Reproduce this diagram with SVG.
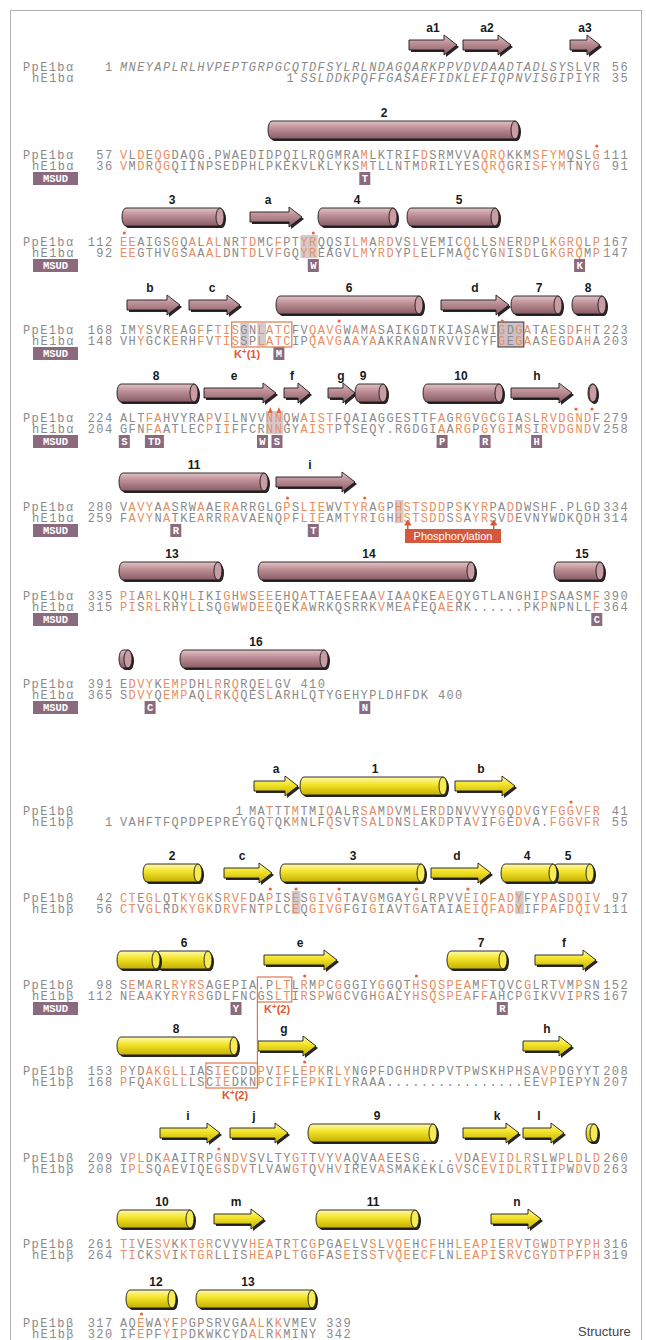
<svg xmlns="http://www.w3.org/2000/svg" width="646" height="1340" viewBox="0 0 646 1340">
<defs>
<linearGradient id="gm" x1="0" y1="0" x2="0" y2="1"><stop offset="0" stop-color="#e2c3c7"/><stop offset="0.4" stop-color="#bd8f96"/><stop offset="1" stop-color="#8a5c66"/></linearGradient>
<linearGradient id="gy" x1="0" y1="0" x2="0" y2="1"><stop offset="0" stop-color="#fffab0"/><stop offset="0.4" stop-color="#f4e52c"/><stop offset="1" stop-color="#c4b000"/></linearGradient>
</defs>
<style>
.sq{font-family:"Liberation Mono","DejaVu Sans Mono",monospace;font-size:12px;letter-spacing:1.39px;fill:#8a8a8a}
.o{fill:#e98e62}
.it{font-style:italic}
.nr{text-anchor:end}
.lbl{font-family:"Liberation Sans",Arial,sans-serif;font-weight:bold;font-size:12px;fill:#1a1a1a;text-anchor:middle}
.sh{fill:#262626}
.m{fill:url(#gm);stroke:#1a1a1a;stroke-width:0.9}
.me{fill:#c99ca3;stroke:#1a1a1a;stroke-width:0.9}
.y{fill:url(#gy);stroke:#1a1a1a;stroke-width:0.9}
.ye{fill:#f6ea55;stroke:#1a1a1a;stroke-width:0.9}
.hl{fill:#cbc1c6;opacity:0.85}
.mb{fill:#8b6a7e}
.mt{font-family:"Liberation Mono",monospace;font-weight:bold;font-size:10.5px;fill:#fff;text-anchor:middle}
.kb{fill:none;stroke:#e2774e;stroke-width:1.2}
.kt{font-family:"Liberation Sans",Arial,sans-serif;font-weight:bold;font-size:11px;fill:#e0562f}
.dot{fill:#e8643a}
</style>
<rect x="10.5" y="10.5" width="631" height="1340" fill="#fff" stroke="#b0b0b0"/>

<g id="highlights">
<rect class="hl" x="300.4" y="235" width="17.2" height="23"/>
<rect class="hl" x="240.3" y="323" width="8.6" height="23"/>
<rect class="hl" x="257.4" y="323" width="8.6" height="23"/>
<rect x="498" y="322" width="25.8" height="25" fill="#cbc1c6" stroke="#333" stroke-width="1"/>
<rect class="hl" x="266" y="411" width="17.2" height="23"/>
<rect class="hl" x="394.9" y="500" width="8.6" height="23"/>
<rect class="hl" x="291.8" y="891" width="8.6" height="23"/>
<rect class="hl" x="515.2" y="891" width="8.6" height="23"/>
</g>

<g id="a-block1">
<g transform="translate(409,45)"><polygon class="sh" points="2,-3 37,-3 37,-8 50,2 37,12 37,7 2,7"/><polygon class="m" points="0,-5 35,-5 35,-10 48,0 35,10 35,5 0,5"/></g>
<g transform="translate(463,45)"><polygon class="sh" points="2,-3 37,-3 37,-8 50,2 37,12 37,7 2,7"/><polygon class="m" points="0,-5 35,-5 35,-10 48,0 35,10 35,5 0,5"/></g>
<g transform="translate(570,45)"><polygon class="sh" points="2,-3 19,-3 19,-8 32,2 19,12 19,7 2,7"/><polygon class="m" points="0,-5 17,-5 17,-10 30,0 17,10 17,5 0,5"/></g>
<text class="lbl" x="433" y="32">a1</text><text class="lbl" x="487" y="32">a2</text><text class="lbl" x="585" y="32">a3</text>
<text class="sq" x="23" y="71">PpE1bα</text><text class="sq nr" x="113.5" y="71">1</text>
<text class="sq it" x="120" y="71">MNEYAPLRLHVPEPTGRPGCQTDFSYLRLNDAGQARKPPVDVDAADTADLSY<tspan font-style="normal">SLVR</tspan></text><text class="sq nr" x="629" y="71">56</text>
<text class="sq" x="32" y="82">hE1bα</text><text class="sq nr" x="295" y="82">1</text>
<text class="sq it" x="300.4" y="82">SSLDDKPQFFGASAEFIDKLEFIQPNVISGI<tspan font-style="normal">PIYR</tspan></text><text class="sq nr" x="629" y="82">35</text>
</g>

<g id="a-block2">
<g transform="translate(268,130)"><rect class="sh" x="2" y="-7" width="251" height="18" rx="4" ry="9"/><rect class="m" x="0" y="-9" width="251" height="18" rx="4" ry="9"/><ellipse class="me" cx="247" cy="0" rx="4" ry="9"/></g>
<text class="lbl" x="384" y="117">2</text>
<circle class="dot" cx="596.8" cy="146" r="1.6"/>
<text class="sq" x="23" y="159">PpE1bα</text><text class="sq nr" x="113.5" y="159">57</text>
<text class="sq" x="120" y="159"><tspan class="o">V</tspan>L<tspan class="o">D</tspan>E<tspan class="o">QG</tspan>DAQG.PWAEDIDPQILRQGMRA<tspan class="o">M</tspan>LKTRIF<tspan class="o">D</tspan>SRMVVA<tspan class="o">QRQ</tspan>KKM<tspan class="o">SFYM</tspan>QSL<tspan class="o">G</tspan></text><text class="sq nr" x="629" y="159">111</text>
<text class="sq" x="32" y="170">hE1bα</text><text class="sq nr" x="113.5" y="170">36</text>
<text class="sq" x="120" y="170"><tspan class="o">V</tspan>M<tspan class="o">D</tspan>R<tspan class="o">QG</tspan>QIINPSEDPHLPKEKVLKLYKS<tspan class="o">M</tspan>TLLNTM<tspan class="o">D</tspan>RILYES<tspan class="o">QRQ</tspan>GRI<tspan class="o">SFYM</tspan>TNY<tspan class="o">G</tspan></text><text class="sq nr" x="629" y="170">91</text>
<rect class="mb" x="33" y="172" width="45" height="13"/><text class="mt" x="55.5" y="182">MSUD</text>
<rect class="mb" x="359.3" y="172" width="11" height="13"/><text class="mt" x="364.8" y="182">T</text>
</g>

<g id="a-block3">
<g transform="translate(122,217)"><rect class="sh" x="2" y="-7" width="102" height="18" rx="4" ry="9"/><rect class="m" x="0" y="-9" width="102" height="18" rx="4" ry="9"/><ellipse class="me" cx="98" cy="0" rx="4" ry="9"/></g>
<g transform="translate(250,217)"><polygon class="sh" points="2,-3 41,-3 41,-8 54,2 41,12 41,7 2,7"/><polygon class="m" points="0,-5 39,-5 39,-10 52,0 39,10 39,5 0,5"/></g>
<g transform="translate(318,217)"><rect class="sh" x="2" y="-7" width="79" height="18" rx="4" ry="9"/><rect class="m" x="0" y="-9" width="79" height="18" rx="4" ry="9"/><ellipse class="me" cx="75" cy="0" rx="4" ry="9"/></g>
<g transform="translate(407,217)"><rect class="sh" x="2" y="-7" width="92" height="18" rx="4" ry="9"/><rect class="m" x="0" y="-9" width="92" height="18" rx="4" ry="9"/><ellipse class="me" cx="88" cy="0" rx="4" ry="9"/></g>
<text class="lbl" x="172" y="204">3</text><text class="lbl" x="268" y="204">a</text><text class="lbl" x="357" y="204">4</text><text class="lbl" x="459" y="204">5</text>
<circle class="dot" cx="124.3" cy="233" r="1.6"/><circle class="dot" cx="313.3" cy="233" r="1.6"/>
<text class="sq" x="23" y="246">PpE1bα</text><text class="sq nr" x="113.5" y="246">112</text>
<text class="sq" x="120" y="246"><tspan class="o">EE</tspan>AIGS<tspan class="o">G</tspan>Q<tspan class="o">A</tspan>L<tspan class="o">AL</tspan>NR<tspan class="o">TD</tspan>MC<tspan class="o">F</tspan>PT<tspan class="o">YR</tspan>QQSI<tspan class="o">LM</tspan>A<tspan class="o">RD</tspan>VS<tspan class="o">L</tspan>VEMIC<tspan class="o">Q</tspan>LLS<tspan class="o">N</tspan>ER<tspan class="o">D</tspan>PL<tspan class="o">KGRQ</tspan>L<tspan class="o">P</tspan></text><text class="sq nr" x="629" y="246">167</text>
<text class="sq" x="32" y="257">hE1bα</text><text class="sq nr" x="113.5" y="257">92</text>
<text class="sq" x="120" y="257"><tspan class="o">EE</tspan>GTHV<tspan class="o">G</tspan>S<tspan class="o">A</tspan>A<tspan class="o">AL</tspan>DN<tspan class="o">TD</tspan>LV<tspan class="o">F</tspan>GQ<tspan class="o">YR</tspan>EAGV<tspan class="o">LM</tspan>Y<tspan class="o">RD</tspan>YP<tspan class="o">L</tspan>ELFMA<tspan class="o">Q</tspan>CYG<tspan class="o">N</tspan>IS<tspan class="o">D</tspan>LG<tspan class="o">KGRQ</tspan>M<tspan class="o">P</tspan></text><text class="sq nr" x="629" y="257">147</text>
<rect class="mb" x="33" y="259" width="45" height="13"/><text class="mt" x="55.5" y="269">MSUD</text>
<rect class="mb" x="307.8" y="259" width="11" height="13"/><text class="mt" x="313.3" y="269">W</text>
<rect class="mb" x="574.1" y="259" width="11" height="13"/><text class="mt" x="579.6" y="269">K</text>
</g>

<g id="a-block4">
<g transform="translate(127,305)"><polygon class="sh" points="2,-3 42,-3 42,-8 55,2 42,12 42,7 2,7"/><polygon class="m" points="0,-5 40,-5 40,-10 53,0 40,10 40,5 0,5"/></g>
<g transform="translate(189,305)"><polygon class="sh" points="2,-3 40,-3 40,-8 53,2 40,12 40,7 2,7"/><polygon class="m" points="0,-5 38,-5 38,-10 51,0 38,10 38,5 0,5"/></g>
<g transform="translate(276,305)"><rect class="sh" x="2" y="-7" width="147" height="18" rx="4" ry="9"/><rect class="m" x="0" y="-9" width="147" height="18" rx="4" ry="9"/><ellipse class="me" cx="143" cy="0" rx="4" ry="9"/></g>
<g transform="translate(441,305)"><polygon class="sh" points="2,-3 57,-3 57,-8 70,2 57,12 57,7 2,7"/><polygon class="m" points="0,-5 55,-5 55,-10 68,0 55,10 55,5 0,5"/></g>
<g transform="translate(511,305)"><rect class="sh" x="2" y="-7" width="51" height="18" rx="4" ry="9"/><rect class="m" x="0" y="-9" width="51" height="18" rx="4" ry="9"/><ellipse class="me" cx="47" cy="0" rx="4" ry="9"/></g>
<g transform="translate(572,305)"><rect class="sh" x="2" y="-7" width="34" height="18" rx="4" ry="9"/><rect class="m" x="0" y="-9" width="34" height="18" rx="4" ry="9"/><ellipse class="me" cx="30" cy="0" rx="4" ry="9"/></g>
<text class="lbl" x="150" y="292">b</text><text class="lbl" x="212" y="292">c</text><text class="lbl" x="349" y="292">6</text><text class="lbl" x="475" y="292">d</text><text class="lbl" x="539" y="292">7</text><text class="lbl" x="588" y="292">8</text>
<circle class="dot" cx="339.1" cy="321" r="1.6"/><circle class="dot" cx="502.3" cy="321" r="1.6"/>
<text class="sq" x="23" y="334">PpE1bα</text><text class="sq nr" x="113.5" y="334">168</text>
<text class="sq" x="120" y="334">IM<tspan class="o">Y</tspan>SVR<tspan class="o">E</tspan>AG<tspan class="o">F</tspan>F<tspan class="o">TIS</tspan>GN<tspan class="o">LATC</tspan>FV<tspan class="o">QAVG</tspan>W<tspan class="o">A</tspan>M<tspan class="o">A</tspan>SAIKGDTKIASAWI<tspan class="o">G</tspan>D<tspan class="o">GA</tspan>TA<tspan class="o">E</tspan>S<tspan class="o">D</tspan>F<tspan class="o">H</tspan>T</text><text class="sq nr" x="629" y="334">223</text>
<text class="sq" x="32" y="345">hE1bα</text><text class="sq nr" x="113.5" y="345">148</text>
<text class="sq" x="120" y="345">VH<tspan class="o">Y</tspan>GCK<tspan class="o">E</tspan>RH<tspan class="o">F</tspan>V<tspan class="o">TIS</tspan>SP<tspan class="o">LATC</tspan>IP<tspan class="o">QAVG</tspan>A<tspan class="o">A</tspan>Y<tspan class="o">A</tspan>AKRANANRVVICYF<tspan class="o">G</tspan>E<tspan class="o">GA</tspan>AS<tspan class="o">E</tspan>G<tspan class="o">D</tspan>A<tspan class="o">H</tspan>A</text><text class="sq nr" x="629" y="345">203</text>
<rect class="mb" x="33" y="347" width="45" height="13"/><text class="mt" x="55.5" y="357">MSUD</text>
<rect class="mb" x="273.4" y="347" width="11" height="13"/><text class="mt" x="278.9" y="357">M</text>
<text class="kt" x="234" y="358">K<tspan font-size="8" dy="-4">+</tspan><tspan dy="4">(1)</tspan></text>
</g>

<g id="a-block5">
<g transform="translate(117,393)"><rect class="sh" x="2" y="-7" width="81" height="18" rx="4" ry="9"/><rect class="m" x="0" y="-9" width="81" height="18" rx="4" ry="9"/><ellipse class="me" cx="77" cy="0" rx="4" ry="9"/></g>
<g transform="translate(204,393)"><polygon class="sh" points="2,-3 61,-3 61,-8 74,2 61,12 61,7 2,7"/><polygon class="m" points="0,-5 59,-5 59,-10 72,0 59,10 59,5 0,5"/></g>
<g transform="translate(284,393)"><polygon class="sh" points="2,-3 16,-3 16,-8 28,2 16,12 16,7 2,7"/><polygon class="m" points="0,-5 14,-5 14,-10 26,0 14,10 14,5 0,5"/></g>
<g transform="translate(328,393)"><polygon class="sh" points="2,-3 17,-3 17,-8 29,2 17,12 17,7 2,7"/><polygon class="m" points="0,-5 15,-5 15,-10 27,0 15,10 15,5 0,5"/></g>
<g transform="translate(355,393)"><rect class="sh" x="2" y="-7" width="32" height="18" rx="4" ry="9"/><rect class="m" x="0" y="-9" width="32" height="18" rx="4" ry="9"/><ellipse class="me" cx="28" cy="0" rx="4" ry="9"/></g>
<g transform="translate(423,393)"><rect class="sh" x="2" y="-7" width="80" height="18" rx="4" ry="9"/><rect class="m" x="0" y="-9" width="80" height="18" rx="4" ry="9"/><ellipse class="me" cx="76" cy="0" rx="4" ry="9"/></g>
<g transform="translate(511,393)"><polygon class="sh" points="2,-3 50,-3 50,-8 63,2 50,12 50,7 2,7"/><polygon class="m" points="0,-5 48,-5 48,-10 61,0 48,10 48,5 0,5"/></g>
<g transform="translate(588,393)"><rect class="sh" x="2" y="-7" width="9" height="18" rx="4" ry="9"/><rect class="m" x="0" y="-9" width="9" height="18" rx="4" ry="9"/><ellipse class="me" cx="5" cy="0" rx="4" ry="9"/></g>
<text class="lbl" x="156" y="380">8</text><text class="lbl" x="234" y="380">e</text><text class="lbl" x="292" y="380">f</text><text class="lbl" x="341" y="380">g</text><text class="lbl" x="363" y="380">9</text><text class="lbl" x="461" y="380">10</text><text class="lbl" x="537" y="380">h</text>
<polygon class="dot" points="267.8,413 272.8,413 270.3,407"/><polygon class="dot" points="276.4,413 281.4,413 278.9,407"/>
<circle class="dot" cx="576" cy="409" r="1.6"/><circle class="dot" cx="592" cy="409" r="1.6"/>
<text class="sq" x="23" y="422">PpE1bα</text><text class="sq nr" x="113.5" y="422">224</text>
<text class="sq" x="120" y="422">ALT<tspan class="o">FA</tspan>HVYRA<tspan class="o">P</tspan>V<tspan class="o">I</tspan>LNVV<tspan class="o">NN</tspan>QW<tspan class="o">AIST</tspan>FQAIAGGESTTF<tspan class="o">A</tspan>G<tspan class="o">RG</tspan>V<tspan class="o">G</tspan>C<tspan class="o">GI</tspan>A<tspan class="o">S</tspan>L<tspan class="o">RVDGND</tspan>F</text><text class="sq nr" x="629" y="422">279</text>
<text class="sq" x="32" y="433">hE1bα</text><text class="sq nr" x="113.5" y="433">204</text>
<text class="sq" x="120" y="433">GFN<tspan class="o">FA</tspan>ATLEC<tspan class="o">P</tspan>I<tspan class="o">I</tspan>FFCR<tspan class="o">NN</tspan>GY<tspan class="o">AIST</tspan>PTSEQY.RGDGI<tspan class="o">A</tspan>A<tspan class="o">RG</tspan>P<tspan class="o">G</tspan>Y<tspan class="o">GI</tspan>M<tspan class="o">S</tspan>I<tspan class="o">RVDGND</tspan>V</text><text class="sq nr" x="629" y="433">258</text>
<rect class="mb" x="33" y="435" width="45" height="13"/><text class="mt" x="55.5" y="445">MSUD</text>
<rect class="mb" x="118.8" y="435" width="11" height="13"/><text class="mt" x="124.3" y="445">S</text>
<rect class="mb" x="144.9" y="435" width="19" height="13"/><text class="mt" x="154.4" y="445">TD</text>
<rect class="mb" x="257" y="435" width="11" height="13"/><text class="mt" x="262.5" y="445">W</text>
<rect class="mb" x="271.5" y="435" width="11" height="13"/><text class="mt" x="277" y="445">S</text>
<rect class="mb" x="436.6" y="435" width="11" height="13"/><text class="mt" x="442.1" y="445">P</text>
<rect class="mb" x="479.6" y="435" width="11" height="13"/><text class="mt" x="485.1" y="445">R</text>
<rect class="mb" x="531.1" y="435" width="11" height="13"/><text class="mt" x="536.6" y="445">H</text>
</g>

<g id="a-block6">
<g transform="translate(119,482)"><rect class="sh" x="2" y="-7" width="149" height="18" rx="4" ry="9"/><rect class="m" x="0" y="-9" width="149" height="18" rx="4" ry="9"/><ellipse class="me" cx="145" cy="0" rx="4" ry="9"/></g>
<g transform="translate(276,482)"><polygon class="sh" points="2,-3 68,-3 68,-8 81,2 68,12 68,7 2,7"/><polygon class="m" points="0,-5 66,-5 66,-10 79,0 66,10 66,5 0,5"/></g>
<text class="lbl" x="194" y="469">11</text><text class="lbl" x="310" y="469">i</text>
<circle class="dot" cx="287.5" cy="498" r="1.6"/><circle class="dot" cx="364.8" cy="498" r="1.6"/>
<text class="sq" x="23" y="511">PpE1bα</text><text class="sq nr" x="113.5" y="511">280</text>
<text class="sq" x="120" y="511">V<tspan class="o">AVY</tspan>A<tspan class="o">A</tspan>SRW<tspan class="o">A</tspan>AE<tspan class="o">RA</tspan>RRGLG<tspan class="o">P</tspan>S<tspan class="o">LIE</tspan>WV<tspan class="o">TYR</tspan>A<tspan class="o">G</tspan>P<tspan class="o">HSTSDD</tspan>P<tspan class="o">S</tspan>K<tspan class="o">YR</tspan>PA<tspan class="o">D</tspan>DWSHF.PLGD</text><text class="sq nr" x="629" y="511">334</text>
<text class="sq" x="32" y="522">hE1bα</text><text class="sq nr" x="113.5" y="522">259</text>
<text class="sq" x="120" y="522">F<tspan class="o">AVY</tspan>N<tspan class="o">A</tspan>TKE<tspan class="o">A</tspan>RR<tspan class="o">RA</tspan>VAENQ<tspan class="o">P</tspan>F<tspan class="o">LIE</tspan>AM<tspan class="o">TYR</tspan>I<tspan class="o">G</tspan>H<tspan class="o">HSTSDD</tspan>S<tspan class="o">S</tspan>A<tspan class="o">YR</tspan>SV<tspan class="o">D</tspan>EVNYWDKQDH</text><text class="sq nr" x="629" y="522">314</text>
<rect class="mb" x="33" y="524" width="45" height="13"/><text class="mt" x="55.5" y="534">MSUD</text>
<rect class="mb" x="170.3" y="524" width="11" height="13"/><text class="mt" x="175.8" y="534">R</text>
<rect class="mb" x="307.8" y="524" width="11" height="13"/><text class="mt" x="313.3" y="534">T</text>
<rect x="405" y="529" width="96" height="14" fill="#d4583c"/>
<text x="453" y="540" text-anchor="middle" font-family="Liberation Sans, Arial, sans-serif" font-size="11" fill="#fff">Phosphorylation</text>
</g>

<g id="a-block7">
<g transform="translate(119,571)"><rect class="sh" x="2" y="-7" width="103" height="18" rx="4" ry="9"/><rect class="m" x="0" y="-9" width="103" height="18" rx="4" ry="9"/><ellipse class="me" cx="99" cy="0" rx="4" ry="9"/></g>
<g transform="translate(258,571)"><rect class="sh" x="2" y="-7" width="217" height="18" rx="4" ry="9"/><rect class="m" x="0" y="-9" width="217" height="18" rx="4" ry="9"/><ellipse class="me" cx="213" cy="0" rx="4" ry="9"/></g>
<g transform="translate(554,571)"><rect class="sh" x="2" y="-7" width="50" height="18" rx="4" ry="9"/><rect class="m" x="0" y="-9" width="50" height="18" rx="4" ry="9"/><ellipse class="me" cx="46" cy="0" rx="4" ry="9"/></g>
<text class="lbl" x="172" y="558">13</text><text class="lbl" x="369" y="558">14</text><text class="lbl" x="582" y="558">15</text>
<text class="sq" x="23" y="600">PpE1bα</text><text class="sq nr" x="113.5" y="600">335</text>
<text class="sq" x="120" y="600"><tspan class="o">PI</tspan>A<tspan class="o">RL</tspan>KQH<tspan class="o">L</tspan>IKI<tspan class="o">G</tspan>H<tspan class="o">W</tspan>S<tspan class="o">EE</tspan>EHQ<tspan class="o">A</tspan>TTAEFEAA<tspan class="o">V</tspan>IA<tspan class="o">A</tspan>QKE<tspan class="o">AE</tspan>QYGTLANGHI<tspan class="o">P</tspan>SAASM<tspan class="o">F</tspan></text><text class="sq nr" x="629" y="600">390</text>
<text class="sq" x="32" y="611">hE1bα</text><text class="sq nr" x="113.5" y="611">315</text>
<text class="sq" x="120" y="611"><tspan class="o">PI</tspan>S<tspan class="o">RL</tspan>RHY<tspan class="o">L</tspan>LSQ<tspan class="o">G</tspan>W<tspan class="o">W</tspan>D<tspan class="o">EE</tspan>QEK<tspan class="o">A</tspan>WRKQSRRK<tspan class="o">V</tspan>ME<tspan class="o">A</tspan>FEQ<tspan class="o">AE</tspan>RK......PK<tspan class="o">P</tspan>NPNLL<tspan class="o">F</tspan></text><text class="sq nr" x="629" y="611">364</text>
<rect class="mb" x="33" y="613" width="45" height="13"/><text class="mt" x="55.5" y="623">MSUD</text>
<rect class="mb" x="591.3" y="613" width="11" height="13"/><text class="mt" x="596.8" y="623">C</text>
</g>

<g id="a-block8">
<g transform="translate(119,659)"><rect class="sh" x="2" y="-7" width="13" height="18" rx="4" ry="9"/><rect class="m" x="0" y="-9" width="13" height="18" rx="4" ry="9"/><ellipse class="me" cx="9" cy="0" rx="4" ry="9"/></g>
<g transform="translate(180,659)"><rect class="sh" x="2" y="-7" width="148" height="18" rx="4" ry="9"/><rect class="m" x="0" y="-9" width="148" height="18" rx="4" ry="9"/><ellipse class="me" cx="144" cy="0" rx="4" ry="9"/></g>
<text class="lbl" x="256" y="646">16</text>
<text class="sq" x="23" y="688">PpE1bα</text><text class="sq nr" x="113.5" y="688">391</text>
<text class="sq" x="120" y="688">E<tspan class="o">DVY</tspan>K<tspan class="o">EMP</tspan>DH<tspan class="o">LR</tspan>R<tspan class="o">Q</tspan>RQE<tspan class="o">L</tspan>GV 410</text>
<text class="sq" x="32" y="699">hE1bα</text><text class="sq nr" x="113.5" y="699">365</text>
<text class="sq" x="120" y="699">S<tspan class="o">DVY</tspan>Q<tspan class="o">EMP</tspan>AQ<tspan class="o">LR</tspan>K<tspan class="o">Q</tspan>QES<tspan class="o">L</tspan>ARHLQTYGEHYPLDHFDK 400</text>
<rect class="mb" x="33" y="701" width="45" height="13"/><text class="mt" x="55.5" y="711">MSUD</text>
<rect class="mb" x="144.6" y="701" width="11" height="13"/><text class="mt" x="150.1" y="711">C</text>
<rect class="mb" x="359.3" y="701" width="11" height="13"/><text class="mt" x="364.8" y="711">N</text>
</g>

<g id="b-block1">
<g transform="translate(254,786)"><polygon class="sh" points="2,-3 33,-3 33,-8 46,2 33,12 33,7 2,7"/><polygon class="y" points="0,-5 31,-5 31,-10 44,0 31,10 31,5 0,5"/></g>
<g transform="translate(300,786)"><rect class="sh" x="2" y="-7" width="147" height="18" rx="4" ry="9"/><rect class="y" x="0" y="-9" width="147" height="18" rx="4" ry="9"/><ellipse class="ye" cx="143" cy="0" rx="4" ry="9"/></g>
<g transform="translate(455,786)"><polygon class="sh" points="2,-3 49,-3 49,-8 62,2 49,12 49,7 2,7"/><polygon class="y" points="0,-5 47,-5 47,-10 60,0 47,10 47,5 0,5"/></g>
<text class="lbl" x="276" y="773">a</text><text class="lbl" x="375" y="773">1</text><text class="lbl" x="481" y="773">b</text>
<circle class="dot" cx="571" cy="802" r="1.6"/>
<text class="sq" x="23" y="815">PpE1bβ</text><text class="sq nr" x="244" y="815">1</text>
<text class="sq" x="248.9" y="815">MA<tspan class="o">T</tspan>TT<tspan class="o">M</tspan>TMI<tspan class="o">Q</tspan>ALR<tspan class="o">SA</tspan>M<tspan class="o">D</tspan>VM<tspan class="o">L</tspan>ER<tspan class="o">D</tspan>DNV<tspan class="o">V</tspan>VY<tspan class="o">G</tspan>Q<tspan class="o">DV</tspan>GY<tspan class="o">FGGVFR</tspan></text><text class="sq nr" x="629" y="815">41</text>
<text class="sq" x="32" y="826">hE1bβ</text><text class="sq nr" x="113.5" y="826">1</text>
<text class="sq" x="120" y="826">VAHFTFQPDPEPREYGQ<tspan class="o">T</tspan>QK<tspan class="o">M</tspan>NLF<tspan class="o">Q</tspan>SVT<tspan class="o">SA</tspan>L<tspan class="o">D</tspan>NS<tspan class="o">L</tspan>AK<tspan class="o">D</tspan>PTA<tspan class="o">V</tspan>IF<tspan class="o">G</tspan>E<tspan class="o">DV</tspan>A.<tspan class="o">FGGVFR</tspan></text><text class="sq nr" x="629" y="826">55</text>
</g>

<g id="b-block2">
<g transform="translate(143,873)"><rect class="sh" x="2" y="-7" width="59" height="18" rx="4" ry="9"/><rect class="y" x="0" y="-9" width="59" height="18" rx="4" ry="9"/><ellipse class="ye" cx="55" cy="0" rx="4" ry="9"/></g>
<g transform="translate(224,873)"><polygon class="sh" points="2,-3 37,-3 37,-8 50,2 37,12 37,7 2,7"/><polygon class="y" points="0,-5 35,-5 35,-10 48,0 35,10 35,5 0,5"/></g>
<g transform="translate(280,873)"><rect class="sh" x="2" y="-7" width="145" height="18" rx="4" ry="9"/><rect class="y" x="0" y="-9" width="145" height="18" rx="4" ry="9"/><ellipse class="ye" cx="141" cy="0" rx="4" ry="9"/></g>
<g transform="translate(431,873)"><polygon class="sh" points="2,-3 49,-3 49,-8 62,2 49,12 49,7 2,7"/><polygon class="y" points="0,-5 47,-5 47,-10 60,0 47,10 47,5 0,5"/></g>
<g transform="translate(553,873)"><rect class="sh" x="2" y="-7" width="41" height="18" rx="4" ry="9"/><rect class="y" x="0" y="-9" width="41" height="18" rx="4" ry="9"/><ellipse class="ye" cx="37" cy="0" rx="4" ry="9"/></g>
<g transform="translate(501,873)"><rect class="sh" x="2" y="-7" width="56" height="18" rx="4" ry="9"/><rect class="y" x="0" y="-9" width="56" height="18" rx="4" ry="9"/><ellipse class="ye" cx="52" cy="0" rx="4" ry="9"/></g>
<text class="lbl" x="172" y="860">2</text><text class="lbl" x="242" y="860">c</text><text class="lbl" x="353" y="860">3</text><text class="lbl" x="457" y="860">d</text><text class="lbl" x="527" y="860">4</text><text class="lbl" x="568" y="860">5</text>
<circle class="dot" cx="270.3" cy="889" r="1.6"/><circle class="dot" cx="296.1" cy="889" r="1.6"/><circle class="dot" cx="339.1" cy="889" r="1.6"/><circle class="dot" cx="416.4" cy="889" r="1.6"/><circle class="dot" cx="467.9" cy="889" r="1.6"/>
<text class="sq" x="23" y="902">PpE1bβ</text><text class="sq nr" x="113.5" y="902">42</text>
<text class="sq" x="120" y="902"><tspan class="o">CT</tspan>E<tspan class="o">GL</tspan>QT<tspan class="o">KYGK</tspan>S<tspan class="o">RVF</tspan>DA<tspan class="o">P</tspan>IS<tspan class="o">E</tspan>S<tspan class="o">GIVG</tspan>TAV<tspan class="o">G</tspan>MGAY<tspan class="o">G</tspan>LRPVV<tspan class="o">EIQFADY</tspan>FY<tspan class="o">PA</tspan>S<tspan class="o">DQIV</tspan></text><text class="sq nr" x="629" y="902">97</text>
<text class="sq" x="32" y="913">hE1bβ</text><text class="sq nr" x="113.5" y="913">56</text>
<text class="sq" x="120" y="913"><tspan class="o">CT</tspan>V<tspan class="o">GL</tspan>RD<tspan class="o">KYGK</tspan>D<tspan class="o">RVF</tspan>NT<tspan class="o">P</tspan>LC<tspan class="o">E</tspan>Q<tspan class="o">GIVG</tspan>FGI<tspan class="o">G</tspan>IAVT<tspan class="o">G</tspan>ATAIA<tspan class="o">EIQFADY</tspan>IF<tspan class="o">PA</tspan>F<tspan class="o">DQIV</tspan></text><text class="sq nr" x="629" y="913">111</text>
</g>

<g id="b-block3">
<g transform="translate(156,960)"><rect class="sh" x="2" y="-7" width="56" height="18" rx="4" ry="9"/><rect class="y" x="0" y="-9" width="56" height="18" rx="4" ry="9"/><ellipse class="ye" cx="52" cy="0" rx="4" ry="9"/></g>
<g transform="translate(117,960)"><rect class="sh" x="2" y="-7" width="43" height="18" rx="4" ry="9"/><rect class="y" x="0" y="-9" width="43" height="18" rx="4" ry="9"/><ellipse class="ye" cx="39" cy="0" rx="4" ry="9"/></g>
<g transform="translate(264,960)"><polygon class="sh" points="2,-3 62,-3 62,-8 75,2 62,12 62,7 2,7"/><polygon class="y" points="0,-5 60,-5 60,-10 73,0 60,10 60,5 0,5"/></g>
<g transform="translate(447,960)"><rect class="sh" x="2" y="-7" width="60" height="18" rx="4" ry="9"/><rect class="y" x="0" y="-9" width="60" height="18" rx="4" ry="9"/><ellipse class="ye" cx="56" cy="0" rx="4" ry="9"/></g>
<g transform="translate(535,960)"><polygon class="sh" points="2,-3 50,-3 50,-8 63,2 50,12 50,7 2,7"/><polygon class="y" points="0,-5 48,-5 48,-10 61,0 48,10 48,5 0,5"/></g>
<text class="lbl" x="184" y="947">6</text><text class="lbl" x="300" y="947">e</text><text class="lbl" x="481" y="947">7</text><text class="lbl" x="564" y="947">f</text>
<circle class="dot" cx="304.7" cy="976" r="1.6"/><circle class="dot" cx="416.4" cy="976" r="1.6"/>
<text class="sq" x="23" y="989">PpE1bβ</text><text class="sq nr" x="113.5" y="989">98</text>
<text class="sq" x="120" y="989">S<tspan class="o">E</tspan>M<tspan class="o">A</tspan>RL<tspan class="o">RYRS</tspan>AGEPIA.P<tspan class="o">LT</tspan>L<tspan class="o">R</tspan>M<tspan class="o">P</tspan>C<tspan class="o">G</tspan>GGIY<tspan class="o">G</tspan>GQT<tspan class="o">HSQSPEA</tspan>M<tspan class="o">F</tspan>TQVC<tspan class="o">G</tspan>LRT<tspan class="o">V</tspan>M<tspan class="o">P</tspan>SN</text><text class="sq nr" x="629" y="989">152</text>
<text class="sq" x="32" y="1000">hE1bβ</text><text class="sq nr" x="113.5" y="1000">112</text>
<text class="sq" x="120" y="1000">N<tspan class="o">E</tspan>A<tspan class="o">A</tspan>KY<tspan class="o">RYRS</tspan>GDLFNCGS<tspan class="o">LT</tspan>I<tspan class="o">R</tspan>S<tspan class="o">P</tspan>W<tspan class="o">G</tspan>CVGH<tspan class="o">G</tspan>ALY<tspan class="o">HSQSPEA</tspan>F<tspan class="o">F</tspan>AHCP<tspan class="o">G</tspan>IKV<tspan class="o">V</tspan>I<tspan class="o">P</tspan>RS</text><text class="sq nr" x="629" y="1000">167</text>
<rect class="mb" x="33" y="1002" width="45" height="13"/><text class="mt" x="55.5" y="1012">MSUD</text>
<rect class="mb" x="230.5" y="1002" width="11" height="13"/><text class="mt" x="236" y="1012">Y</text>
<rect class="mb" x="496.8" y="1002" width="11" height="13"/><text class="mt" x="502.3" y="1012">R</text>
<text class="kt" x="264" y="1013">K<tspan font-size="8" dy="-4">+</tspan><tspan dy="4">(2)</tspan></text>
</g>

<g id="b-block4">
<g transform="translate(117,1046)"><rect class="sh" x="2" y="-7" width="121" height="18" rx="4" ry="9"/><rect class="y" x="0" y="-9" width="121" height="18" rx="4" ry="9"/><ellipse class="ye" cx="117" cy="0" rx="4" ry="9"/></g>
<g transform="translate(258,1046)"><polygon class="sh" points="2,-3 47,-3 47,-8 60,2 47,12 47,7 2,7"/><polygon class="y" points="0,-5 45,-5 45,-10 58,0 45,10 45,5 0,5"/></g>
<g transform="translate(523,1046)"><polygon class="sh" points="2,-3 38,-3 38,-8 51,2 38,12 38,7 2,7"/><polygon class="y" points="0,-5 36,-5 36,-10 49,0 36,10 36,5 0,5"/></g>
<text class="lbl" x="176" y="1033">8</text><text class="lbl" x="284" y="1033">g</text><text class="lbl" x="547" y="1033">h</text>
<circle class="dot" cx="304.7" cy="1062" r="1.6"/>
<text class="sq" x="23" y="1075">PpE1bβ</text><text class="sq nr" x="113.5" y="1075">153</text>
<text class="sq" x="120" y="1075"><tspan class="o">P</tspan>YD<tspan class="o">AKGLL</tspan>IAS<tspan class="o">IE</tspan>CDD<tspan class="o">P</tspan>V<tspan class="o">IF</tspan>L<tspan class="o">EPK</tspan>R<tspan class="o">LY</tspan>NGPFDGHHDRPVTPWSKHPHSA<tspan class="o">VP</tspan>DGYYT</text><text class="sq nr" x="629" y="1075">208</text>
<text class="sq" x="32" y="1086">hE1bβ</text><text class="sq nr" x="113.5" y="1086">168</text>
<text class="sq" x="120" y="1086"><tspan class="o">P</tspan>FQ<tspan class="o">AKGLL</tspan>LSC<tspan class="o">IE</tspan>DKN<tspan class="o">P</tspan>C<tspan class="o">IF</tspan>F<tspan class="o">EPK</tspan>I<tspan class="o">LY</tspan>RAAA................EE<tspan class="o">VP</tspan>IEPYN</text><text class="sq nr" x="629" y="1086">207</text>
<text class="kt" x="222" y="1099">K<tspan font-size="8" dy="-4">+</tspan><tspan dy="4">(2)</tspan></text>
</g>

<g id="b-block5">
<g transform="translate(160,1133)"><polygon class="sh" points="2,-3 49,-3 49,-8 62,2 49,12 49,7 2,7"/><polygon class="y" points="0,-5 47,-5 47,-10 60,0 47,10 47,5 0,5"/></g>
<g transform="translate(230,1133)"><polygon class="sh" points="2,-3 47,-3 47,-8 60,2 47,12 47,7 2,7"/><polygon class="y" points="0,-5 45,-5 45,-10 58,0 45,10 45,5 0,5"/></g>
<g transform="translate(308,1133)"><rect class="sh" x="2" y="-7" width="129" height="18" rx="4" ry="9"/><rect class="y" x="0" y="-9" width="129" height="18" rx="4" ry="9"/><ellipse class="ye" cx="125" cy="0" rx="4" ry="9"/></g>
<g transform="translate(463,1133)"><polygon class="sh" points="2,-3 45,-3 45,-8 58,2 45,12 45,7 2,7"/><polygon class="y" points="0,-5 43,-5 43,-10 56,0 43,10 43,5 0,5"/></g>
<g transform="translate(523,1133)"><polygon class="sh" points="2,-3 30,-3 30,-8 43,2 30,12 30,7 2,7"/><polygon class="y" points="0,-5 28,-5 28,-10 41,0 28,10 28,5 0,5"/></g>
<g transform="translate(586,1133)"><rect class="sh" x="2" y="-7" width="12" height="18" rx="4" ry="9"/><rect class="y" x="0" y="-9" width="12" height="18" rx="4" ry="9"/><ellipse class="ye" cx="8" cy="0" rx="4" ry="9"/></g>
<text class="lbl" x="188" y="1120">i</text><text class="lbl" x="254" y="1120">j</text><text class="lbl" x="377" y="1120">9</text><text class="lbl" x="497" y="1120">k</text><text class="lbl" x="539" y="1120">l</text>
<circle class="dot" cx="218.8" cy="1149" r="1.6"/>
<text class="sq" x="23" y="1162">PpE1bβ</text><text class="sq nr" x="113.5" y="1162">209</text>
<text class="sq" x="120" y="1162">V<tspan class="o">PL</tspan>DK<tspan class="o">A</tspan>AITRP<tspan class="o">G</tspan>N<tspan class="o">DV</tspan>SVLTY<tspan class="o">GT</tspan>T<tspan class="o">V</tspan>Y<tspan class="o">V</tspan>AQVA<tspan class="o">A</tspan>EESG....<tspan class="o">V</tspan>DA<tspan class="o">EVIDLR</tspan>SLW<tspan class="o">P</tspan>L<tspan class="o">D</tspan>L<tspan class="o">D</tspan></text><text class="sq nr" x="629" y="1162">260</text>
<text class="sq" x="32" y="1173">hE1bβ</text><text class="sq nr" x="113.5" y="1173">208</text>
<text class="sq" x="120" y="1173">I<tspan class="o">PL</tspan>SQ<tspan class="o">A</tspan>EVIQE<tspan class="o">G</tspan>S<tspan class="o">DV</tspan>TLVAW<tspan class="o">GT</tspan>Q<tspan class="o">V</tspan>H<tspan class="o">V</tspan>IREV<tspan class="o">A</tspan>SMAKEKLG<tspan class="o">V</tspan>SC<tspan class="o">EVIDLR</tspan>TII<tspan class="o">P</tspan>W<tspan class="o">D</tspan>V<tspan class="o">D</tspan></text><text class="sq nr" x="629" y="1173">263</text>
</g>

<g id="b-block6">
<g transform="translate(117,1219)"><rect class="sh" x="2" y="-7" width="77" height="18" rx="4" ry="9"/><rect class="y" x="0" y="-9" width="77" height="18" rx="4" ry="9"/><ellipse class="ye" cx="73" cy="0" rx="4" ry="9"/></g>
<g transform="translate(214,1219)"><polygon class="sh" points="2,-3 39,-3 39,-8 52,2 39,12 39,7 2,7"/><polygon class="y" points="0,-5 37,-5 37,-10 50,0 37,10 37,5 0,5"/></g>
<g transform="translate(316,1219)"><rect class="sh" x="2" y="-7" width="103" height="18" rx="4" ry="9"/><rect class="y" x="0" y="-9" width="103" height="18" rx="4" ry="9"/><ellipse class="ye" cx="99" cy="0" rx="4" ry="9"/></g>
<g transform="translate(491,1219)"><polygon class="sh" points="2,-3 39,-3 39,-8 52,2 39,12 39,7 2,7"/><polygon class="y" points="0,-5 37,-5 37,-10 50,0 37,10 37,5 0,5"/></g>
<text class="lbl" x="162" y="1206">10</text><text class="lbl" x="236" y="1206">m</text><text class="lbl" x="373" y="1206">11</text><text class="lbl" x="517" y="1206">n</text>
<text class="sq" x="23" y="1248">PpE1bβ</text><text class="sq nr" x="113.5" y="1248">261</text>
<text class="sq" x="120" y="1248"><tspan class="o">TI</tspan>VE<tspan class="o">SV</tspan>K<tspan class="o">KTGR</tspan>CVVV<tspan class="o">HEA</tspan>TR<tspan class="o">T</tspan>C<tspan class="o">G</tspan>PGA<tspan class="o">E</tspan>LV<tspan class="o">S</tspan>L<tspan class="o">VQE</tspan>H<tspan class="o">CF</tspan>HH<tspan class="o">LEAPI</tspan>E<tspan class="o">RV</tspan>T<tspan class="o">G</tspan>W<tspan class="o">DTP</tspan>Y<tspan class="o">PH</tspan></text><text class="sq nr" x="629" y="1248">316</text>
<text class="sq" x="32" y="1259">hE1bβ</text><text class="sq nr" x="113.5" y="1259">264</text>
<text class="sq" x="120" y="1259"><tspan class="o">TI</tspan>CK<tspan class="o">SV</tspan>I<tspan class="o">KTGR</tspan>LLIS<tspan class="o">HEA</tspan>PL<tspan class="o">T</tspan>G<tspan class="o">G</tspan>FAS<tspan class="o">E</tspan>IS<tspan class="o">S</tspan>T<tspan class="o">VQE</tspan>E<tspan class="o">CF</tspan>LN<tspan class="o">LEAPI</tspan>S<tspan class="o">RV</tspan>C<tspan class="o">G</tspan>Y<tspan class="o">DTP</tspan>F<tspan class="o">PH</tspan></text><text class="sq nr" x="629" y="1259">319</text>
</g>

<g id="b-block7">
<g transform="translate(126,1299)"><rect class="sh" x="2" y="-7" width="50" height="18" rx="4" ry="9"/><rect class="y" x="0" y="-9" width="50" height="18" rx="4" ry="9"/><ellipse class="ye" cx="46" cy="0" rx="4" ry="9"/></g>
<g transform="translate(196,1299)"><rect class="sh" x="2" y="-7" width="120" height="18" rx="4" ry="9"/><rect class="y" x="0" y="-9" width="120" height="18" rx="4" ry="9"/><ellipse class="ye" cx="116" cy="0" rx="4" ry="9"/></g>
<text class="lbl" x="156" y="1286">12</text><text class="lbl" x="248" y="1286">13</text>
<circle class="dot" cx="141.5" cy="1314" r="1.6"/>
<text class="sq" x="23" y="1327">PpE1bβ</text><text class="sq nr" x="113.5" y="1327">317</text>
<text class="sq" x="120" y="1327">AQ<tspan class="o">E</tspan>WA<tspan class="o">Y</tspan>F<tspan class="o">P</tspan>GPSRVGA<tspan class="o">AL</tspan>K<tspan class="o">K</tspan>VMEV 339</text>
<text class="sq" x="32" y="1338">hE1bβ</text><text class="sq nr" x="113.5" y="1338">320</text>
<text class="sq" x="120" y="1338">IF<tspan class="o">E</tspan>PF<tspan class="o">Y</tspan>I<tspan class="o">P</tspan>DKWKCYD<tspan class="o">AL</tspan>R<tspan class="o">K</tspan>MINY 342</text>
<text x="578" y="1336" font-family="Liberation Sans, Arial, sans-serif" font-size="13" fill="#444">Structure</text>
</g>

<g id="connectors">
<rect class="kb" x="231.7" y="322" width="60.1" height="25"/>
<rect class="kb" x="257.4" y="977" width="34.4" height="25"/>
<line x1="257.4" y1="1002" x2="257.4" y2="1063" stroke="#e2774e" stroke-width="1.2"/>
<rect class="kb" x="205.9" y="1063" width="51.5" height="25"/>
<g fill="#d4583c" stroke="#d4583c">
<line x1="407.8" y1="529" x2="407.8" y2="524" stroke-width="1.5"/><polygon points="404.8,525 410.8,525 407.8,520"/>
<line x1="493.7" y1="529" x2="493.7" y2="524" stroke-width="1.5"/><polygon points="490.7,525 496.7,525 493.7,520"/>
</g>
</g>
</svg>
